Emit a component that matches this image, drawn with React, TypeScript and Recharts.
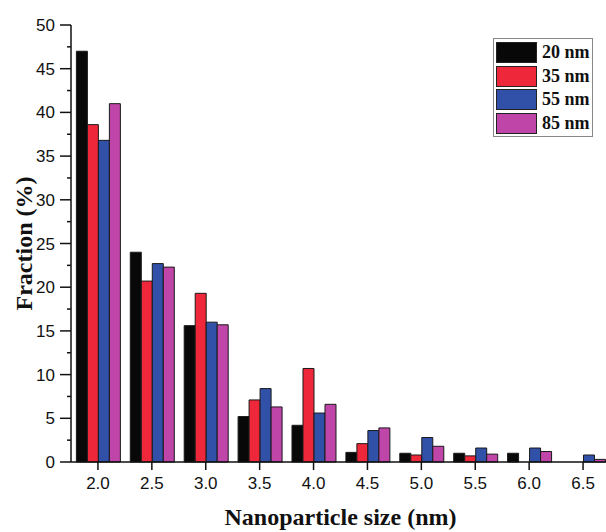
import React from 'react';
import { BarChart, Bar, XAxis, YAxis, Legend } from 'recharts';

// particle sizes (nm) on the x axis
const sizes = ['2.0', '2.5', '3.0', '3.5', '4.0', '4.5', '5.0', '5.5', '6.0', '6.5'];

// fraction (%) for each sample
const nm20 = [47.0, 24.0, 15.6, 5.2, 4.2, 1.1, 1.0, 1.0, 1.0, 0];
const nm35 = [38.6, 20.7, 19.3, 7.1, 10.7, 2.1, 0.8, 0.7, 0, 0];
const nm55 = [36.8, 22.7, 16.0, 8.4, 5.6, 3.6, 2.8, 1.6, 1.6, 0.8];
const nm85 = [41.0, 22.3, 15.7, 6.3, 6.6, 3.9, 1.8, 0.9, 1.2, 0.3];

const yTicks = [0, 2.5, 5, 7.5, 10, 12.5, 15, 17.5, 20, 22.5, 25, 27.5, 30, 32.5, 35, 37.5, 40, 42.5, 45, 47.5, 50];
const yMajor = [0, 5, 10, 15, 20, 25, 30, 35, 40, 45, 50];

const series = [
    { key: 'nm20', name: '20 nm', color: '#080808' },
    { key: 'nm35', name: '35 nm', color: '#ee283a' },
    { key: 'nm55', name: '55 nm', color: '#3150a8' },
    { key: 'nm85', name: '85 nm', color: '#c045a8' },
];

const data = sizes.map((s, i) => ({
    size: s,
    nm20: nm20[i],
    nm35: nm35[i],
    nm55: nm55[i],
    nm85: nm85[i],
}));

const sans = '"Liberation Sans", Arial, sans-serif';
const serif = '"Liberation Serif", "Times New Roman", serif';

// left axis tick: long tick + label on whole fives, short tick in between
const LeftTick = (props: any) => {
    const { x, y, payload } = props;
    const major = payload.value % 5 === 0;
    const axisX = x + 16;
    return (
        <g>
            <line x1={axisX - (major ? 11 : 4)} y1={y} x2={axisX} y2={y} stroke="#111" strokeWidth={1.5} />
            {major && (
                <text x={x} y={y} dy={6} textAnchor="end" fontSize={17} fontFamily={sans} fill="#111">
                    {payload.value}
                </text>
            )}
        </g>
    );
};

const renderLegend = () => (
    <div
        style={{
            border: '1px solid #888',
            background: '#fff',
            padding: '2px 2px 1px 2px',
            width: 94,
            boxSizing: 'content-box',
        }}
    >
        {series.map((s) => (
            <div key={s.key} style={{ display: 'flex', alignItems: 'center', height: 23.5 }}>
                <div
                    style={{
                        width: 39,
                        height: 19,
                        background: s.color,
                        border: '1px solid #222',
                    }}
                />
                <span
                    style={{
                        marginLeft: 5,
                        fontFamily: serif,
                        fontWeight: 'bold',
                        fontSize: 18,
                        color: '#111',
                        whiteSpace: 'nowrap',
                    }}
                >
                    {s.name}
                </span>
            </div>
        ))}
    </div>
);

export default function App() {
    return (
        <div style={{ position: 'absolute', left: 0, top: 0, width: 606, height: 532, overflow: 'hidden', background: '#fff' }}>
            <BarChart
                width={620}
                height={532}
                data={data}
                margin={{ top: 25, right: 10, left: 0, bottom: 0 }}
                barCategoryGap="10%"
                barGap={0}
            >
                <XAxis
                    dataKey="size"
                    height={70}
                    tickSize={8}
                    tickMargin={7}
                    stroke="#111"
                    strokeWidth={1.5}
                    tick={{ fontSize: 17, fontFamily: sans, fill: '#111' }}
                    label={{
                        value: 'Nanoparticle size (nm)',
                        position: 'insideBottom',
                        offset: 7,
                        style: { fontFamily: serif, fontWeight: 'bold', fontSize: 24, fill: '#111' },
                    }}
                />
                <XAxis
                    xAxisId="top"
                    dataKey="size"
                    orientation="top"
                    mirror
                    height={0}
                    tick={false}
                    tickSize={8}
                    stroke="#111"
                    strokeWidth={1.5}
                />
                <YAxis
                    type="number"
                    domain={[0, 50]}
                    ticks={yTicks}
                    interval={0}
                    width={71}
                    tickSize={11}
                    tickMargin={5}
                    tickLine={false}
                    stroke="#111"
                    strokeWidth={1.5}
                    tick={<LeftTick />}
                    label={{
                        value: 'Fraction (%)',
                        angle: -90,
                        position: 'insideLeft',
                        offset: 23,
                        style: { textAnchor: 'middle', fontFamily: serif, fontWeight: 'bold', fontSize: 24, fill: '#111' },
                    }}
                />
                <YAxis
                    yAxisId="right"
                    orientation="right"
                    type="number"
                    domain={[0, 50]}
                    ticks={yMajor}
                    mirror
                    width={0}
                    tick={false}
                    tickSize={5}
                    stroke="#111"
                    strokeWidth={1.5}
                />
                <Legend
                    layout="horizontal"
                    verticalAlign="middle"
                    align="center"
                    content={renderLegend}
                    wrapperStyle={{ top: 38, left: 493, width: 'auto', height: 'auto' }}
                />
                {series.map((s) => (
                    <Bar
                        key={s.key}
                        dataKey={s.key}
                        name={s.name}
                        fill={s.color}
                        stroke="#1a1a1a"
                        strokeWidth={1}
                        isAnimationActive={false}
                    />
                ))}
            </BarChart>
        </div>
    );
}
